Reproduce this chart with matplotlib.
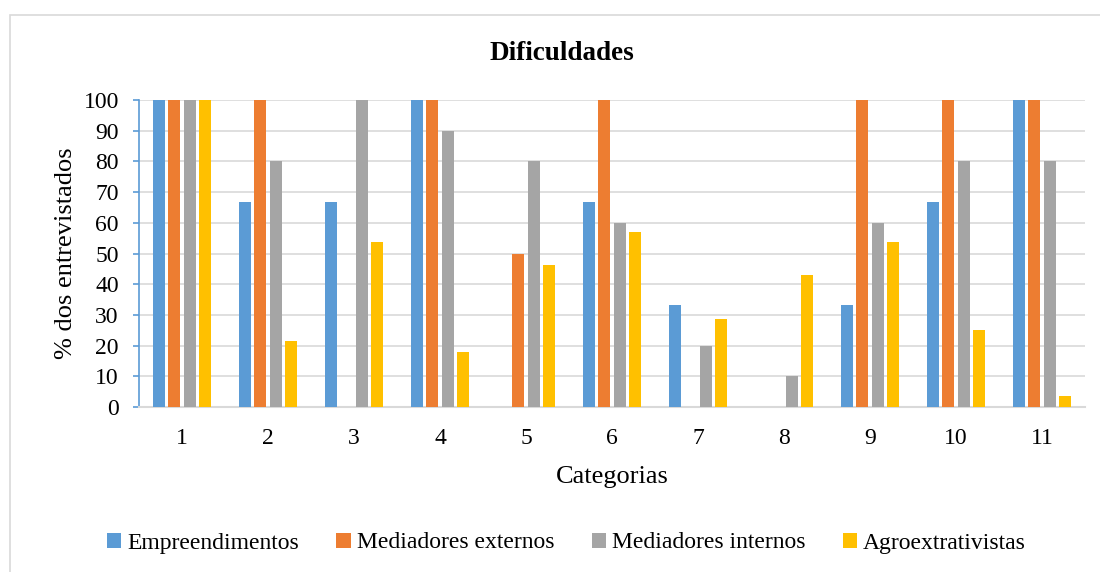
import matplotlib
matplotlib.use('Agg')
import matplotlib.pyplot as plt
from matplotlib.patches import Rectangle
import numpy as np

plt.rcParams['font.family'] = ['Liberation Serif', 'DejaVu Serif']

categorias = ['1', '2', '3', '4', '5', '6', '7', '8', '9', '10', '11']
empreendimentos = [100, 66.7, 66.7, 100, 0, 66.7, 33.3, 0, 33.3, 66.7, 100]
med_externos = [100, 100, 0, 100, 50, 100, 0, 0, 100, 100, 100]
med_internos = [100, 80, 100, 90, 80, 60, 20, 10, 60, 80, 80]
agroextrativistas = [100, 21.4, 53.6, 17.9, 46.4, 57.1, 28.6, 42.9, 53.6, 25, 3.6]

series = [
    ('Empreendimentos', empreendimentos, '#5B9BD5'),
    ('Mediadores externos', med_externos, '#ED7D31'),
    ('Mediadores internos', med_internos, '#A5A5A5'),
    ('Agroextrativistas', agroextrativistas, '#FFC000'),
]

fig = plt.figure(figsize=(11, 5.72), dpi=100)
ax = fig.add_axes([139/1100, 1-407/572, (1085-139)/1100, (407-100)/572])

x = np.arange(len(categorias))
pitch = 0.181
for k, (name, vals, col) in enumerate(series):
    ax.bar(x + (k - 1.5)*pitch, vals, width=0.14, color=col, label=name, zorder=3)

ax.set_xlim(-0.5, len(categorias) - 0.5)
ax.set_ylim(0, 100)
ax.set_yticks(range(0, 101, 10))
ax.set_xticks(x)
ax.set_xticklabels(categorias)
ax.yaxis.grid(True, color='#d9d9d9', linewidth=1.2, zorder=0)
ax.set_axisbelow(True)

for s in ['top', 'right']:
    ax.spines[s].set_visible(False)
ax.spines['bottom'].set_color('#d9d9d9')
ax.spines['bottom'].set_linewidth(1.5)
ax.spines['left'].set_color('#5B9BD5')
ax.spines['left'].set_linewidth(1.2)
ax.tick_params(axis='y', colors='#5B9BD5', labelcolor='black', length=4.5, width=1.2,
               labelsize=17, pad=10)
ax.tick_params(axis='x', length=0, labelsize=17, pad=15)

ax.set_ylabel('% dos entrevistados', fontsize=19, labelpad=5)
ax.set_xlabel('Categorias', fontsize=19, labelpad=12)
fig.text(0.511, 1-54/572, 'Dificuldades', ha='center', va='center',
         fontsize=19.5, fontweight='bold')

fig.legend(loc='center', bbox_to_anchor=(0.515, 1-543/572), ncol=4, frameon=False,
           fontsize=17, handlelength=0.6, handleheight=0.6, handletextpad=0.25,
           columnspacing=1.6)

fig.patches.append(Rectangle((10/1100, -0.1), 1.2, 1.1 - 15/572, fill=False,
                             edgecolor='#d9d9d9', linewidth=1.2,
                             transform=fig.transFigure, figure=fig))

plt.savefig('out.png', dpi=100)
